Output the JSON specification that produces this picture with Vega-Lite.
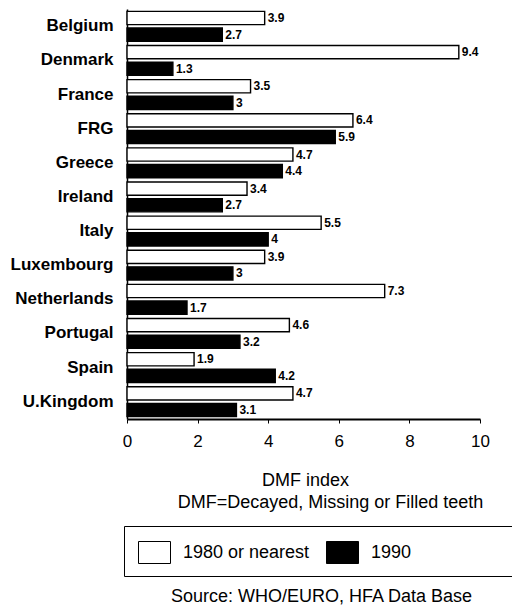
{
  "$schema": "https://vega.github.io/schema/vega-lite/v6.json",
  "width": 353,
  "height": 410,
  "autosize": {"type": "none"},
  "padding": {"left": 127, "top": 9, "right": 32, "bottom": 189},
  "background": "white",
  "config": {
    "font": "Liberation Sans",
    "view": {"stroke": null}
  },
  "data": {
    "values": [
      {"country": "Belgium", "series": "1980 or nearest", "value": 3.9},
      {"country": "Belgium", "series": "1990", "value": 2.7},
      {"country": "Denmark", "series": "1980 or nearest", "value": 9.4},
      {"country": "Denmark", "series": "1990", "value": 1.3},
      {"country": "France", "series": "1980 or nearest", "value": 3.5},
      {"country": "France", "series": "1990", "value": 3},
      {"country": "FRG", "series": "1980 or nearest", "value": 6.4},
      {"country": "FRG", "series": "1990", "value": 5.9},
      {"country": "Greece", "series": "1980 or nearest", "value": 4.7},
      {"country": "Greece", "series": "1990", "value": 4.4},
      {"country": "Ireland", "series": "1980 or nearest", "value": 3.4},
      {"country": "Ireland", "series": "1990", "value": 2.7},
      {"country": "Italy", "series": "1980 or nearest", "value": 5.5},
      {"country": "Italy", "series": "1990", "value": 4},
      {"country": "Luxembourg", "series": "1980 or nearest", "value": 3.9},
      {"country": "Luxembourg", "series": "1990", "value": 3},
      {"country": "Netherlands", "series": "1980 or nearest", "value": 7.3},
      {"country": "Netherlands", "series": "1990", "value": 1.7},
      {"country": "Portugal", "series": "1980 or nearest", "value": 4.6},
      {"country": "Portugal", "series": "1990", "value": 3.2},
      {"country": "Spain", "series": "1980 or nearest", "value": 1.9},
      {"country": "Spain", "series": "1990", "value": 4.2},
      {"country": "U.Kingdom", "series": "1980 or nearest", "value": 4.7},
      {"country": "U.Kingdom", "series": "1990", "value": 3.1}
    ]
  },
  "encoding": {
    "y": {
      "field": "country",
      "type": "nominal",
      "sort": null,
      "scale": {"paddingInner": 0.125, "paddingOuter": 0.07},
      "axis": {
        "title": null,
        "ticks": false,
        "labelFontSize": 17,
        "labelFontWeight": "bold",
        "labelColor": "black",
        "labelPadding": 14,
        "domainColor": "black",
        "domainWidth": 1.5
      }
    },
    "yOffset": {
      "field": "series",
      "sort": ["1980 or nearest", "1990"],
      "scale": {"paddingInner": 0.2, "paddingOuter": 0}
    },
    "x": {
      "field": "value",
      "type": "quantitative",
      "scale": {"domain": [0, 10], "nice": false},
      "axis": {
        "title": ["DMF index\u00a0\u00a0\u00a0\u00a0\u00a0\u00a0\u00a0\u00a0\u00a0\u00a0\u200b", "DMF=Decayed, Missing or Filled teeth"],
        "titleX": 203,
        "titleAlign": "center",
        "titleFontSize": 18,
        "titleFontWeight": "normal",
        "titleColor": "black",
        "titlePadding": 22,
        "titleLineHeight": 22,
        "values": [0, 2, 4, 6, 8, 10],
        "grid": false,
        "tickSize": 4,
        "tickColor": "black",
        "labelPadding": 10,
        "labelFontSize": 17,
        "labelColor": "black",
        "labelFlush": false,
        "domainColor": "black",
        "domainWidth": 2
      }
    }
  },
  "layer": [
    {
      "mark": {"type": "bar", "stroke": "black", "strokeWidth": 1.4},
      "encoding": {
        "fill": {
          "field": "series",
          "type": "nominal",
          "scale": {"domain": ["1980 or nearest", "1990"], "range": ["white", "black"]},
          "legend": {
            "title": null,
            "orient": "none",
            "legendX": -3,
            "legendY": 517,
            "direction": "horizontal",
            "gridAlign": "none",
            "padding": 10,
            "strokeColor": "black",
            "fillColor": "white",
            "symbolType": "M-1,-0.6875H1V0.6875H-1Z",
            "symbolSize": 1024,
            "symbolOffset": 4,
            "symbolStrokeColor": "black",
            "symbolStrokeWidth": 1,
            "labelOffset": 12,
            "columnPadding": 12,
            "labelFontSize": 18,
            "labelColor": "black",
            "labelLimit": 500,
            "labelExpr": "datum.label == '1990' ? '1990\u00a0\u00a0\u00a0\u00a0\u00a0\u00a0\u00a0\u00a0\u00a0\u00a0\u00a0\u00a0\u00a0\u00a0\u00a0\u00a0\u00a0\u00a0\u00a0\u200b' : datum.label"
          }
        }
      }
    },
    {
      "mark": {"type": "text", "align": "left", "baseline": "middle", "dx": 3, "fontSize": 12, "fontWeight": "bold", "color": "black"},
      "encoding": {
        "text": {"field": "value", "type": "quantitative"}
      }
    }
  ],
  "title": {
    "text": "Source: WHO/EURO, HFA Data Base",
    "orient": "bottom",
    "anchor": "middle",
    "frame": "group",
    "dx": 18,
    "offset": 11,
    "fontSize": 18,
    "fontWeight": "normal",
    "color": "black"
  }
}
